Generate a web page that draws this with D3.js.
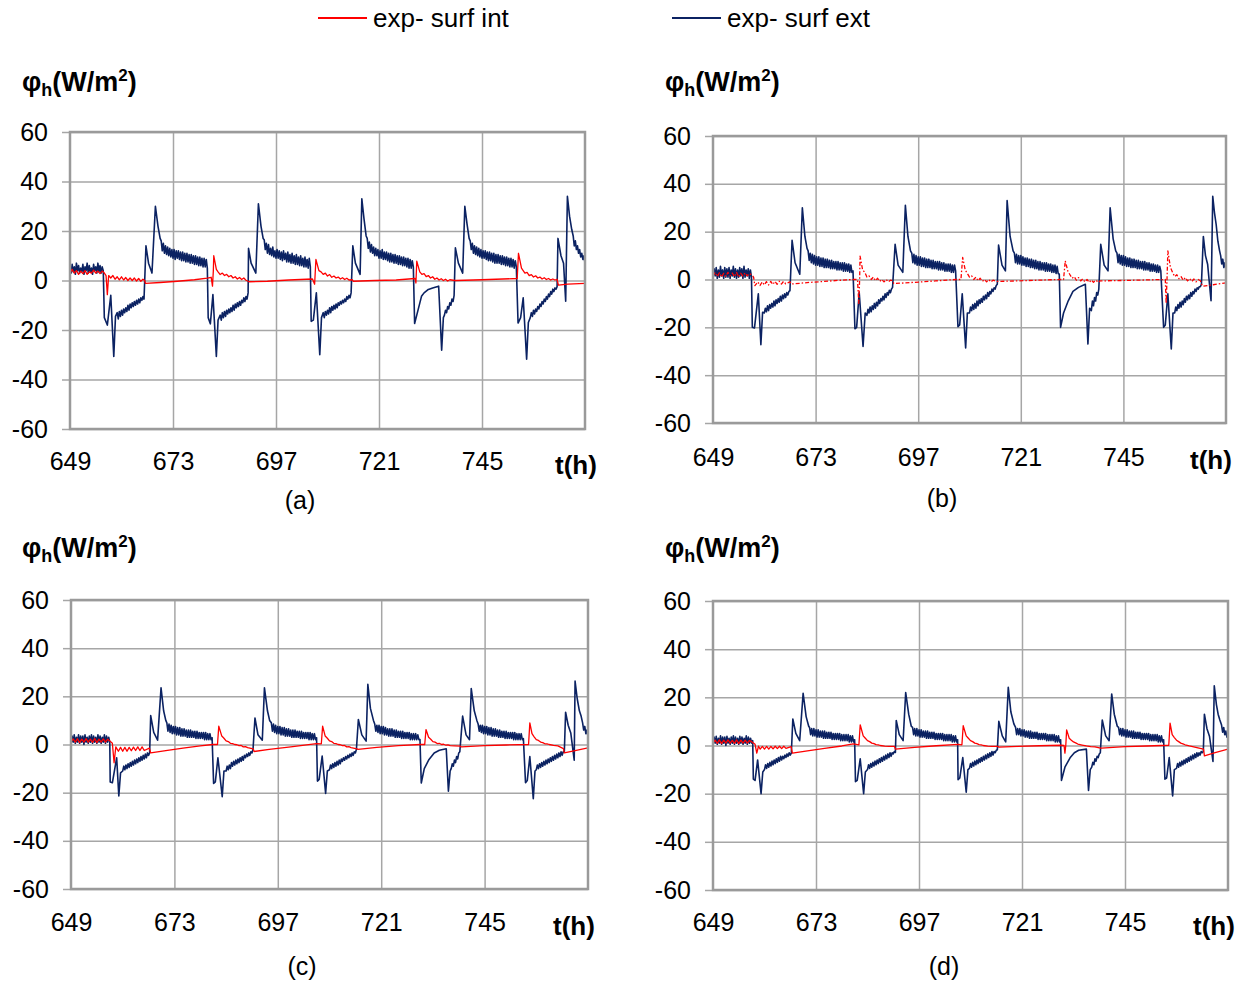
<!DOCTYPE html>
<html><head><meta charset="utf-8">
<script src="https://cdn.jsdelivr.net/npm/d3@7"></script>
<style>
body{margin:0;background:#fff}
svg{display:block}
text{font-family:"Liberation Sans",Arial,sans-serif;fill:#000}
</style>
</head><body>
<svg id="chart" width="1244" height="982"></svg>
<script>
// ---------- DATA ----------
// Entries are either [t, value] or a regularly sampled run [tStart, tStep, [values...]]
const xTicks = [649, 673, 697, 721, 745];
const xDomain = [649, 769];
const yTicks = [60, 40, 20, 0, -20, -40, -60];
const seriesNames = ["exp- surf int", "exp- surf ext"];
const panelLabels = ["(a)", "(b)", "(c)", "(d)"];

const blueA = [
[649,0.25,[5,3,6.5,3.5,5.5,2.5,7,4,6,3,5,3.5,6.5,2.5,5.5,4,7,3,6,3.5,5,2.5,6.5,4,5.5,3,7,3.5,6,3,5.5,4]],
[657,-15],[657.7,-18],[658.5,-6],[659.2,-30.7],[659.6,-14.5],
[660,0.25,[-13,-15.5,-12.5,-14.5,-12,-14,-11.5,-13,-11,-12.5,-10,-12,-9.5,-11,-9,-10.5,-8.5,-10,-8,-9.5,-7.5,-9,-7,-8,-6.5,-7.5]],
[666.7,14],[667.3,7],[668.1,3],[668.9,30],[669.5,22],[670,17],
[670.25,0.25,[16,12,15,11,14,10.5,13.5,10,13,9.5,12.5,9,12.5,8.5,12,9,12,8.5,11.5,8,11.5,8,11,7.5,11,7.5,10.5,7,10.5,7,10,6.5,10,6.5,9.5,6,9.5,6,9,5.5,9,5.5,8.5,5]],
[681.2,-15],[681.7,-17.5],[682.3,-5.7],[683.1,-30.7],[683.5,-16],
[684,0.25,[-14,-16,-13,-15,-12.5,-14.5,-12,-13.5,-11.5,-13,-11,-12.5,-10,-12,-9.5,-11,-9,-10.5,-8.5,-10,-8,-9,-7,-8.5,-6.5,-7.5,-5]],
[690.6,13],[691.2,7],[692.3,3],[692.9,31],[693.5,22],[694,17],
[694.25,0.25,[16.5,12.5,15,11,14.5,10.5,13,10,13.5,9.5,12,9,12.5,9,12,8.5,11.5,8,12,8.5,11,7.5,11.5,7.5,10.5,7,11,7,10,6.5,10.5,6.5,9.5,6,10,6,9,5.5,9.5,5.5,8.5,5,9,5.5]],
[705.2,-16.5],[705.7,-16],[706.4,-5],[707.2,-30],[707.6,-15],
[708,0.25,[-13,-15,-12.5,-14,-12,-13.5,-11,-13,-10.5,-12,-10,-11.5,-9.5,-11,-9,-10,-8.5,-9.5,-8,-9,-7.5,-8.5,-6.5,-7.5,-6,-7,-5]],
[714.9,14],[715.5,7],[716.6,2.5],[717,33],[717.5,25],[718,18],
[718.25,0.25,[17,13,15.5,11.5,14.5,11,13.5,10,13,10,12.5,9,12,9,12.5,8.5,11.5,8.5,11.5,8,11,7.5,11,7.5,10.5,7,10.5,7,10,6.5,10,6.5,9.5,6,9.5,6,9,5.5,9,5,8.5,5,8,5.5]],
[729.3,-17.4],[729.8,-14],[730.9,-6.4],[731.5,-5],[732.5,-3.6],[733.5,-3],[734.9,-2.3],[735.6,-28.2],[736,-15],
[736.25,0.25,[-14,-12,-13,-10.5,-11.5,-9,-10,-7.5,-8.5,-6]],
[738.8,13.2],[739.5,7],[740.5,3],[741,30],[741.5,23],[742,17],
[742.25,0.25,[16,12.5,15,11,14,10.5,13.5,10,13,9.5,12.5,9,12,9,12,8.5,11.5,8,11.5,8,11,7.5,11,7,10.5,7,10.5,7,10,6.5,10,6.5,9.5,6,9.5,6,9,5.5,9,5.5,8.5,5,8,5.5]],
[753.4,-17.2],[754,-15],[754.6,-7],[755.4,-31.8],[755.8,-17],
[756.25,0.25,[-15,-13,-14.5,-12,-13.5,-11.5,-12.5,-10.5,-11.5,-9.5,-10.5,-8.5,-9.5,-7.5,-8.5,-6.5,-7.5,-5.5,-6.5,-4.5,-5.5,-3.5,-4.5,-3,-3.5]],
[762.5,-2.5],[762.7,17],[763.4,10],[764,7],[764.5,-8.4],[764.9,34],[765.4,26],[765.9,20.7],
[766.25,0.25,[18,14,16,12.5,14,11,12.5,9.5,11,8.5,10,7]]];

const redA = [[649,3],[649.5,4.5],[650,3],[650.5,4],[651,2.5],[651.5,3.8],[652,2.8],[652.5,4],[653,2.5],[653.5,3.5],[654,3],[654.5,4.2],[655,3],[655.5,3.8],[656,2.8],[656.5,3.8],[657,3],[657.4,2],[657.7,-5.7],[658,2],[658.5,1],[659,2],[659.5,0.5],[660,1.5],[660.5,0.3],[661,1.5],[661.5,0.2],[662,1.2],[662.5,0],[663,1],[663.5,0],[664,1],[664.5,-0.2],[665,0.8],[665.5,-0.3],[666,0.5],[666.4,0],
[666.6,-1.2],[670,-0.8],[674,-0.3],[678,0.3],[681,1],[681.9,1.3],
[682.2,-2.3],[682.4,4],[682.5,10],[683.1,4.5],[683.5,3.5],[684,2.4],[684.5,3],[685,2],[685.5,2.5],[686,1.5],[686.5,2],[687,1],[687.5,1.5],[688,0.6],[688.5,1.2],[689,0.4],[689.5,1],[690,0.1],[690.5,-0.3],
[690.7,-0.5],[695,-0.3],[700,0.2],[705.5,0.6],
[706,-1.5],[706.3,8.5],[707,4],[707.5,3.5],[708,2.5],[708.5,3],[709,1.8],[709.5,2.4],[710,1.3],[710.5,1.8],[711,1],[711.5,1.4],[712,0.6],[712.5,1.1],[713,0.4],[713.5,0.9],[714,0.2],[714.8,0.3],
[715,-0.3],[720,0],[725,0.2],[729.4,0.8],
[729.6,-1],[729.8,7.8],[730.5,3.5],[731,2.5],[731.5,2.8],[732,1.6],[732.5,2],[733,1],[733.5,1.5],[734,0.5],[734.5,1],[735,0.2],[735.5,0.7],[736,0],[736.5,0.5],[737,-0.2],[737.5,0.3],[738.7,0],
[738.9,0],[745,0.3],[753.2,0.8],
[753.5,11],[754.2,5],[754.6,4],[755,3],[755.5,3.3],[756,2],[756.5,2.4],[757,1.4],[757.5,1.9],[758,1],[758.5,1.4],[759,0.6],[759.5,1.1],[760,0.4],[760.5,0.8],[761,0.2],[761.5,0.6],[762,0.2],[762.5,0.5],
[762.8,-1.9],[765,-1.5],[769,-1.2]];

const blueB = [
[649,0.25,[1,4.5,1.5,5,0.5,4,1,5.5,1.5,4,0.5,5,1,4.5,1,5,0.5,4,1.5,5.5,1,4.5,0.5,4,1,5,1.5,4.5,0.5,5.5,1,4,1.5,4.5,0.5,4,1]],
[658.2,-20],[658.7,-20.3],[659.6,-6],[660.2,-27.3],[660.6,-13.7],
[661,0.25,[-14,-12,-13.5,-11,-13,-10.5,-12,-10,-11.5,-9,-11,-8.5,-10,-8,-9.5,-7,-9,-6.5,-8,-6,-7.5,-5.5,-6.5,-5,-4.7]],
[667.5,16.4],[668.2,7],[669.3,2.2],[669.9,30],[670.5,18],[671,13],
[671.25,0.25,[12,8,11,7,10.5,6.5,10,6,9.5,6,9.5,5.5,9,5.5,9,5,8.5,5,8.5,5,8,4.5,8,4.5,7.5,4.5,7.5,4,7.5,4,7,4,7,3.5,7,3.5,6.5,3.5,6.5,3,6,3,3.6]],
[682.2,-20.6],[682.6,-20],[683.2,-5.4],[684.1,-28],[684.6,-14],
[685,0.25,[-15,-12.5,-14,-11.5,-13.5,-11,-12.5,-10,-12,-9.5,-11,-8.5,-10,-8,-9,-7,-8.5,-6,-7.5,-5.5,-6.5,-4.5,-5.5,-4,-3.3]],
[691.6,14.7],[692.3,6],[693.4,3],[694,31],[694.6,18],[695.2,12],
[695.5,0.25,[11,7,10.5,6.5,10,6,9.5,6,9.5,5.5,9,5.5,9,5,8.5,5,8.5,5,8,4.5,8,4.5,7.5,4.5,7.5,4,7.5,4,7,4,7,3.5,6.5,3.5,6.5,3.5,6.5,3,6,3,6,3.6]],
[706.3,-19.7],[706.7,-19],[707.3,-6],[708.1,-28.6],[708.5,-14],
[709,0.25,[-14,-11.5,-13,-10.5,-12.5,-10,-12,-9,-11,-8.5,-10,-8,-9.5,-7,-8.5,-6.5,-8,-5.5,-7,-5,-6,-4,-5,-3.5,-4,-2.5,-2]],
[715.8,14.4],[716.6,6],[717.4,3.6],[717.8,33],[718.5,18],[719.2,12],
[719.5,0.25,[11,7,10.5,6.5,10,6.5,10,6,9.5,6,9,5.5,9,5.5,8.5,5,8.5,5,8,4.5,8,4.5,7.5,4,7.5,4,7,4,7,3.5,7,3.5,6.5,3.5,6.5,3,6,3,6,2.5,5.5,2.5,2.2]],
[730.3,-20],[731,-14],[732.1,-8.9],[733.2,-5],[734.5,-3.3],[736.1,-2],[736.7,-27],[737.1,-12],
[737.5,0.25,[-13,-9,-11,-7.5,-9,-5.5,-6.5,-4]],
[739.7,14.7],[740.5,6],[741.4,3.6],[741.9,30],[742.6,17],[743.2,12],
[743.5,0.25,[11,7,10.5,6.5,10,6,10,6,9.5,5.5,9,5.5,9,5,8.5,5,8.5,5,8,4.5,8,4.5,7.5,4.5,7.5,4,7.5,4,7,4,7,3.5,6.5,3.5,6.5,3.5,6,3,6,3,5.5,3.6]],
[754.4,-20],[754.8,-19],[755.4,-6],[756.2,-29],[756.6,-14],
[757,0.25,[-14,-11.5,-13,-10.5,-12,-9.5,-11.5,-9,-10.5,-8,-9.5,-7,-8.5,-6.5,-8,-5.5,-7,-5,-6,-4,-5,-3.5,-4,-3,-3,-2]],
[763.7,18],[764.2,10],[764.7,6.4],[765.5,-8.9],[765.9,34.8],[766.3,28],[766.7,23],[767.1,16],[767.5,12],
[767.75,0.25,[10,6.5,8.5,5,7,4.3]]];

const redB = [[649,1.5],[649.5,3],[650,1.2],[650.5,2.8],[651,1],[651.5,2.6],[652,1.3],[652.5,3],[653,1.5],[653.5,2.7],[654,1.2],[654.5,3],[655,1],[655.5,2.6],[656,1.4],[656.5,2.8],[657,1.5],[657.5,2.5],[658,2],[658.5,1],[658.8,-2.6],[659.5,-1],[660,-2.5],[660.5,-1],[661,-2.3],[661.5,-0.9],[662,-2.3],[662.5,-0.8],[663,-2.1],[663.5,-0.8],[664,-2],[664.5,-0.7],[665,-1.9],[665.5,-0.8],[666,-1.8],[667,-1],
[667.3,-1.9],[671,-1.3],[675,-0.8],[679,-0.3],[681.8,0],
[682.8,0],[683.1,-10],[683.3,0],[683.4,9.8],[684,4],[684.5,3],[685,1],[685.5,1.5],[686,0],[686.5,1],[687,-0.5],[687.5,0.5],[688,-0.8],[688.5,0],[689,-1],[689.5,0],[690,-1],[690.5,-0.3],[691,-0.5],
[691.3,-1.7],[696,-1.2],[701,-0.6],[705.9,0],
[707,0],[707.4,9.2],[708,4],[708.5,2.5],[709,1],[709.5,1.5],[710,0],[710.5,1],[711,-0.5],[711.5,0.5],[712,-0.8],[712.5,0],[713,-1],[713.5,0],[714,-1],[714.5,-0.3],[715.3,-0.8],
[715.6,-0.8],[720,-0.6],[725,-0.3],[730.1,0],
[731,0],[731.4,7.8],[732,3.5],[732.5,2],[733,0.5],[733.5,1.2],[734,-0.3],[734.5,0.8],[735,-0.6],[735.5,0.3],[736,-1],[736.5,0],[737,-1.2],[737.5,-0.2],[738,-1.2],[738.5,-0.3],[739.3,-1.2],
[739.5,-0.6],[745,-0.4],[750,-0.2],[754.5,0],
[754.8,0],[755,-10],[755.2,0],[755.4,12],[756,5],[756.5,3],[757,1.2],[757.5,2],[758,0.3],[758.5,1.2],[759,-0.3],[759.5,0.8],[760,-0.6],[760.5,0.4],[761,-0.8],[761.5,0.2],[762,-1],[762.5,0],[763,-0.5],
[763.5,-2.8],[766,-2.2],[769,-1.4]];

const blueC = [
[649,0.25,[0.5,3.5,1,4,0.5,3,1,4,0.5,3.5,1,3.5,0,4,1,3,0.5,3.5,1,4,0.5,3.5,1,3,0.5,4,1,3.5,0.5,3,1,4,0.5,3.5,1,3,1]],
[658.1,-15.6],[658.6,-15.9],[659.6,-5.5],[660.1,-21.4],[660.5,-11.8],
[661,0.25,[-11,-9,-10.5,-8.5,-10,-8,-9.5,-7.5,-9,-7,-8.5,-6.5,-8,-6,-7.5,-5.5,-7,-5,-6.5,-4.5,-6,-4,-5.5,-3.5,-4.5,-3.5]],
[667.5,12],[668.2,5],[669.1,1.8],[669.9,23.5],[670.5,14],[671,10],
[671.25,0.25,[9,5.5,8.5,5,8,4.5,7.5,4.5,7.5,4,7,4,7,3.5,6.5,3.5,6.5,3.5,6,3,6,3,6,3,5.5,3,5.5,2.5,5.5,2.5,5,2.5,5,2.5,5,2,5,2,4.5,2,4.5,2,2.8]],
[682.1,-16.2],[682.5,-15.5],[683.1,-5.5],[684.1,-21.7],[684.5,-11],
[685,0.25,[-11,-9,-10.5,-8.5,-10,-7.5,-9,-7,-8.5,-6.5,-8,-6,-7.5,-5.5,-7,-5,-6.5,-4.5,-5.5,-4,-5,-3.5,-4.5,-3,-3.5,-2]],
[691.7,11],[692.4,4],[693.4,1.8],[693.9,23.5],[694.6,14],[695.1,10],
[695.5,0.25,[9,5.5,8.5,5,8,4.5,7.5,4.5,7.5,4,7,4,7,3.5,6.5,3.5,6.5,3.5,6,3,6,3,6,3,5.5,3,5.5,2.5,5.5,2.5,5,2.5,5,2.5,5,2,5,2,4.5,2,4.5,2,2.8]],
[706.2,-15.2],[706.6,-14.5],[707.3,-4.8],[708.1,-20.3],[708.5,-11],
[709,0.25,[-10.5,-8.5,-10,-8,-9.5,-7.5,-9,-7,-8.5,-6.5,-8,-6,-7,-5.5,-6.5,-5,-6,-4.5,-5.5,-4,-5,-3.5,-4.5,-3,-3.5,-2]],
[715.7,10.4],[716.5,4],[717.5,1.4],[717.9,25],[718.5,15],[719.2,10],
[719.5,0.25,[8.5,5.5,8,5,8,4.5,7.5,4.5,7.5,4,7,4,6.5,3.5,6.5,3.5,6.5,3.5,6,3,6,3,5.5,3,5.5,2.5,5.5,2.5,5,2.5,5,2.5,5,2,4.5,2,4.5,2,4.5,2,4,2,2.1]],
[730.3,-16],[731,-10],[732.1,-6.2],[733.3,-3.5],[734.5,-2.4],[736.1,-1.8],[736.6,-19.4],[737,-11],
[737.25,0.25,[-10,-8,-9,-6.5,-7.5,-5,-6,-3.5,-3]],
[739.9,11.8],[740.7,4],[741.5,2],[741.9,23.2],[742.6,14],[743.2,10],
[743.5,0.25,[8.5,5.5,8,5,8,4.5,7.5,4.5,7.5,4,7,4,7,3.5,6.5,3.5,6.5,3.5,6,3,6,3,5.5,3,5.5,2.5,5.5,2.5,5,2.5,5,2.5,5,2,5,2,4.5,2,4.5,2,4.5,2,2.5]],
[754.5,-15.9],[754.9,-15],[755.5,-5],[756.3,-22.5],[756.7,-11],
[757,0.25,[-10.5,-8.5,-10,-8,-9.5,-7.5,-9,-7,-8.5,-6.5,-8,-6,-7.5,-5.5,-7,-5,-6.5,-4.5,-6,-4,-5.5,-3.5,-5,-3,-4.5,-3,-3.2]],
[763.8,13.4],[764.4,8],[765,4.8],[765.8,-6.5],[766,26.3],[766.5,19],[767,14],[767.4,11.8],
[767.75,0.25,[9,6,7.5,4.5,6,3.5]]];

const redC = [[649,1],[649.5,2.3],[650,1],[650.5,2.4],[651,0.8],[651.5,2.2],[652,1],[652.5,2.4],[653,1],[653.5,2.2],[654,0.9],[654.5,2.5],[655,0.8],[655.5,2.2],[656,1],[656.5,2.3],[657,1],[657.5,2.2],[658,1.5],[658.6,0.5],[659,-7.6],[659.4,-1],[660,-2.8],[660.5,-1.2],[661,-2.8],[661.5,-1.2],[662,-2.8],[662.5,-1.2],[663,-2.6],[663.5,-1.1],[664,-2.5],[664.5,-1],[665,-2.5],[665.5,-1],[666,-2.5],[667.2,-1.5],
[667.5,-3.5],[671,-2.5],[675,-1.5],[679,-0.6],[681.9,0],
[683,0],[683.3,7.6],[684,3.5],[684.5,2.6],[685,1.5],[685.5,1.2],[686,0.5],[686.5,0.4],[687,0],[687.5,-0.1],[688,-0.5],[688.5,-0.4],[689,-1],[689.5,-0.9],[690,-1.3],[691.3,-1.8],
[691.5,-2.9],[695,-2],[700,-1],[706,0.4],
[707.1,0.3],[707.4,7.6],[708,3.5],[708.5,2.6],[709,1.5],[709.5,1.2],[710,0.5],[710.5,0.4],[711,0],[711.5,-0.1],[712,-0.5],[712.5,-0.4],[713,-1],[713.5,-0.9],[714,-1.3],[715.4,-1.8],
[715.6,-2],[720,-1.2],[725,-0.5],[730.1,0],
[731.1,0],[731.4,6.2],[732,3],[732.5,2.2],[733,1.2],[733.5,1],[734,0.4],[734.5,0.5],[735,0],[735.5,0.1],[736,-0.3],[736.5,-0.2],[737,-0.5],[738,-0.6],[739.4,-0.7],
[739.6,-1],[745,-0.5],[750,-0.2],[755.2,0],
[755.5,9],[756,4.5],[756.5,3.2],[757,2],[757.5,1.7],[758,1],[758.5,0.8],[759,0.3],[759.5,0.3],[760,0],[761,-0.4],[762,-0.6],[763.3,-1.7],
[763.5,-3.5],[766,-2.5],[769,-1.4]];

const blueD = [
[649,0.25,[0.5,3.5,1,3.8,0.5,3,1,4,0.5,3.5,1,3.5,0,3.8,1,3,0.5,3.5,1,4,0.5,3.5,1,3,0.5,3.8,1,3.5,0.5,3,1,4,0.5,3.5,1,3,1,2]],
[658.4,-14],[658.8,-14.5],[659.4,-6],[660.2,-20],[660.6,-11],
[661,0.25,[-10,-8,-9.5,-7.5,-9,-7,-8.5,-6.5,-8,-6,-7.5,-5.5,-7,-5,-6.5,-4.5,-6,-4.5,-5.5,-4,-5,-3.5,-4.5,-3,-4,-3.2]],
[667.6,11],[668.3,5],[669.2,2],[670,21.7],[670.7,12],[671.3,8],
[671.5,0.25,[7.5,4.5,7,4,7,4,6.5,3.5,6.5,3.5,6,3.5,6,3,6,3,5.5,3,5.5,3,5.5,2.5,5,2.5,5,2.5,5,2.5,5,2,4.5,2,4.5,2,4.5,2,4.5,1.5,4,1.5,4,1.5,2.4]],
[682.2,-15],[682.6,-14.5],[683.3,-5.5],[684.1,-20],[684.5,-11],
[685,0.25,[-10,-8,-9.5,-7.5,-9,-7,-8.5,-6.5,-8,-6,-7.5,-5.5,-7,-5,-6.5,-4.5,-6,-4,-5.5,-3.5,-5,-3,-4.5,-3,-3.5,-2.5,-2.9]],
[691.7,10.4],[692.4,4.5],[693.3,2],[693.9,22],[694.6,13],[695.2,8],
[695.5,0.25,[7.5,4.5,7,4,7,4,6.5,3.5,6.5,3.5,6,3.5,6,3,6,3,5.5,3,5.5,3,5.5,2.5,5,2.5,5,2.5,5,2.5,5,2,4.5,2,4.5,2,4.5,2,4.5,1.5,4,1.5,4,1.5,2.4]],
[706.1,-14.2],[706.5,-13.5],[707.2,-5],[708,-19.4],[708.4,-10],
[708.75,0.25,[-9.5,-7.5,-9,-7,-8.5,-6.5,-8,-6,-7.5,-5.5,-7,-5,-6.5,-4.5,-6,-4,-5.5,-3.5,-5,-3,-4.5,-2.5,-4,-2.5,-3,-2,-1.8]],
[715.6,10],[716.4,4],[717.2,1.5],[717.8,24.2],[718.4,14],[719.1,9],
[719.5,0.25,[7.5,4.5,7,4.5,7,4,6.5,4,6.5,3.5,6,3.5,6,3,6,3,5.5,3,5.5,3,5.5,2.5,5,2.5,5,2.5,5,2.5,5,2,4.5,2,4.5,2,4.5,2,4.5,1.5,4,1.5,4,1.5,2.4]],
[730.2,-14.5],[731,-9],[732.2,-5.1],[733.2,-3],[734.2,-2],[736,-1.5],[736.5,-18.7],[736.9,-10],
[737.25,0.25,[-9,-7,-8,-5.5,-6.5,-4.5,-5,-3.5,-3]],
[739.7,10.6],[740.5,4],[741.3,2],[741.9,21.4],[742.5,13],[743.2,8],
[743.5,0.25,[7.5,4.5,7,4,7,4,6.5,3.5,6.5,3.5,6,3.5,6,3,6,3,5.5,3,5.5,3,5.5,2.5,5,2.5,5,2.5,5,2.5,5,2,4.5,2,4.5,2,4.5,2,4.5,1.5,4,1.5,4,1.5,2.4]],
[754.3,-14],[754.7,-13.5],[755.3,-5],[756.1,-20.9],[756.5,-10],
[757,0.25,[-9.5,-7.5,-9,-7,-8.5,-6.5,-8,-6,-7.5,-5.5,-7,-5,-6.5,-4.5,-6,-4,-5.5,-3.5,-5,-3,-4.5,-3,-4,-2.5,-3,-2.5]],
[763.5,13],[764.1,7],[764.7,3.7],[765.5,-6.6],[765.8,24.8],[766.3,17],[766.7,13],[767.1,10.6],
[767.5,0.25,[8.5,5.5,7.5,4.5,6,3.5,3.7]]];

const redD = [[649,1],[649.5,2.2],[650,0.9],[650.5,2.3],[651,0.8],[651.5,2.2],[652,1],[652.5,2.3],[653,1],[653.5,2.1],[654,0.9],[654.5,2.3],[655,0.8],[655.5,2.2],[656,1],[656.5,2.2],[657,1],[657.5,2.1],[658,1.6],[658.8,0.5],[659.2,-3.2],[659.6,-0.3],[660,-1.5],[660.5,-0.4],[661,-1.5],[661.5,-0.4],[662,-1.5],[662.5,-0.4],[663,-1.4],[663.5,-0.3],[664,-1.3],[664.5,-0.3],[665,-1.3],[665.5,-0.3],[666,-1.2],[667.2,-0.5],
[667.5,-3.2],[671,-2.2],[675,-1.2],[679,-0.2],[681.7,0.7],
[683,0.3],[683.3,8.6],[684,4],[684.5,3],[685,2],[685.5,1.6],[686,1],[686.5,0.8],[687,0.4],[687.5,0.3],[688,0],[689,-0.3],[690,-0.4],[691.3,-0.4],
[691.5,-1.5],[696,-0.8],[701,-0.1],[706.1,0.5],
[707,0.3],[707.3,8.2],[708,4],[708.5,3],[709,2],[709.5,1.6],[710,1],[710.5,0.8],[711,0.4],[711.5,0.3],[712,0],[713,-0.3],[714,-0.4],[715.4,-0.4],
[715.6,-0.7],[720,-0.4],[725,-0.1],[730.1,0.1],
[730.8,0],[731,-3.2],[731.2,0],[731.4,6.5],[732,3],[732.5,2.2],[733,1.5],[733.5,1.1],[734,0.6],[735,0.2],[736,-0.2],[737,-0.5],[738,-0.6],[739.3,-1.1],
[739.5,-1.1],[745,-0.5],[750,-0.2],[755.2,0.1],
[755.5,9.3],[756,4.5],[756.5,3.3],[757,2.2],[757.5,1.6],[758,1],[758.5,0.7],[759,0.3],[760,-0.2],[761,-0.6],[762,-1],[763.3,-1.5],
[763.5,-4.3],[766,-3],[769,-1.5]];

// ---------- LAYOUT / STYLE ----------
const RED = "#ff0000", BLUE = "#0b2262", GRID = "#a6a6a6", FRAME = "#9a9a9a";
const panels = [
  {blue: blueA, red: redA, dash: null, L: 70,  R: 585,  T: 132, B: 429, lab: [300, 500], title: [22, 82],  th: [555, 465], xl: 32},
  {blue: blueB, red: redB, dash: "4,2,1.5,2", L: 713, R: 1226, T: 136, B: 423, lab: [942, 498], title: [665, 82], th: [1190, 460], xl: 34},
  {blue: blueC, red: redC, dash: null, L: 71,  R: 588,  T: 600, B: 889, lab: [302, 966], title: [22, 548], th: [553, 926], xl: 33},
  {blue: blueD, red: redD, dash: null, L: 713, R: 1228, T: 601, B: 890, lab: [944, 966], title: [665, 548], th: [1193, 926], xl: 32}
];

// expand runs [t0, dt, values] into points; keep [t, v] as is
function expand(entries) {
  const out = [];
  entries.forEach(e => {
    if (Array.isArray(e[2])) e[2].forEach((v, k) => out.push([e[0] + k * e[1], v]));
    else out.push(e);
  });
  return out;
}

const svg = d3.select("#chart");
const FONT = "Liberation Sans, Arial, sans-serif";

panels.forEach((p, i) => {
  const x = d3.scaleLinear().domain(xDomain).range([p.L, p.R]);
  const y = d3.scaleLinear().domain([-60, 60]).range([p.B, p.T]);
  const g = svg.append("g");

  g.append("g").attr("transform", `translate(${p.L},0)`)
    .call(d3.axisLeft(y).tickValues(yTicks).tickSize(-(p.R - p.L)).tickFormat(""))
    .call(s => s.select(".domain").remove())
    .call(s => s.selectAll("line").attr("stroke", GRID).attr("stroke-width", 1.5));
  g.append("g").attr("transform", `translate(0,${p.B})`)
    .call(d3.axisBottom(x).tickValues(xTicks.slice(1)).tickSize(-(p.B - p.T)).tickFormat(""))
    .call(s => s.select(".domain").remove())
    .call(s => s.selectAll("line").attr("stroke", GRID).attr("stroke-width", 1.5));
  g.append("g").attr("transform", `translate(${p.L},0)`)
    .call(d3.axisLeft(y).tickValues(yTicks).tickSize(8).tickPadding(14).tickFormat(d => String(d)))
    .call(s => s.select(".domain").remove())
    .call(s => s.selectAll("line").attr("stroke", GRID).attr("stroke-width", 1.5))
    .call(s => s.selectAll("text").attr("font-size", 25).attr("font-family", FONT).attr("fill", "#000"));
  g.append("g").attr("transform", `translate(0,${p.B})`)
    .call(d3.axisBottom(x).tickValues(xTicks).tickSize(0).tickPadding(p.xl - 9).tickFormat(d => String(d)))
    .call(s => s.select(".domain").remove())
    .call(s => s.selectAll("text").attr("font-size", 25).attr("font-family", FONT).attr("fill", "#000"));

  const cid = "clip" + i;
  svg.append("clipPath").attr("id", cid).append("rect")
    .attr("x", p.L).attr("y", p.T).attr("width", p.R - p.L).attr("height", p.B - p.T);

  const line = d3.line().x(d => x(d[0])).y(d => y(d[1]));
  g.append("path").datum(expand(p.blue)).attr("d", line).attr("clip-path", `url(#${cid})`)
    .attr("fill", "none").attr("stroke", BLUE).attr("stroke-width", 1.6).attr("stroke-linejoin", "round");
  g.append("path").datum(p.red).attr("d", line).attr("clip-path", `url(#${cid})`)
    .attr("fill", "none").attr("stroke", RED).attr("stroke-width", 1.3)
    .attr("stroke-dasharray", p.dash).attr("stroke-linejoin", "round");

  g.append("rect").attr("x", p.L).attr("y", p.T).attr("width", p.R - p.L).attr("height", p.B - p.T)
    .attr("fill", "none").attr("stroke", FRAME).attr("stroke-width", 2.5);

  const t = g.append("text").attr("x", p.title[0]).attr("y", p.title[1] + 9)
    .attr("font-size", 27).attr("font-weight", "bold");
  t.append("tspan").text("φ");
  t.append("tspan").text("h").attr("font-size", 18).attr("dy", 5);
  t.append("tspan").text("(W/m").attr("dy", -5);
  t.append("tspan").text("2").attr("font-size", 17).attr("dy", -10);
  t.append("tspan").text(")").attr("dy", 10);

  g.append("text").attr("x", p.th[0]).attr("y", p.th[1]).attr("dy", "0.35em")
    .attr("font-size", 26).attr("font-weight", "bold").text("t(h)");
  g.append("text").attr("x", p.lab[0]).attr("y", p.lab[1]).attr("dy", "0.35em")
    .attr("text-anchor", "middle").attr("font-size", 25).text(panelLabels[i]);
});

const legend = [{name: seriesNames[0], color: RED, x: 318}, {name: seriesNames[1], color: BLUE, x: 672}];
legend.forEach(l => {
  svg.append("line").attr("x1", l.x).attr("x2", l.x + 49).attr("y1", 18).attr("y2", 18)
    .attr("stroke", l.color).attr("stroke-width", 2);
  svg.append("text").attr("x", l.x + 55).attr("y", 18).attr("dy", "0.35em")
    .attr("font-size", 26).text(l.name);
});
</script>
</body></html>
